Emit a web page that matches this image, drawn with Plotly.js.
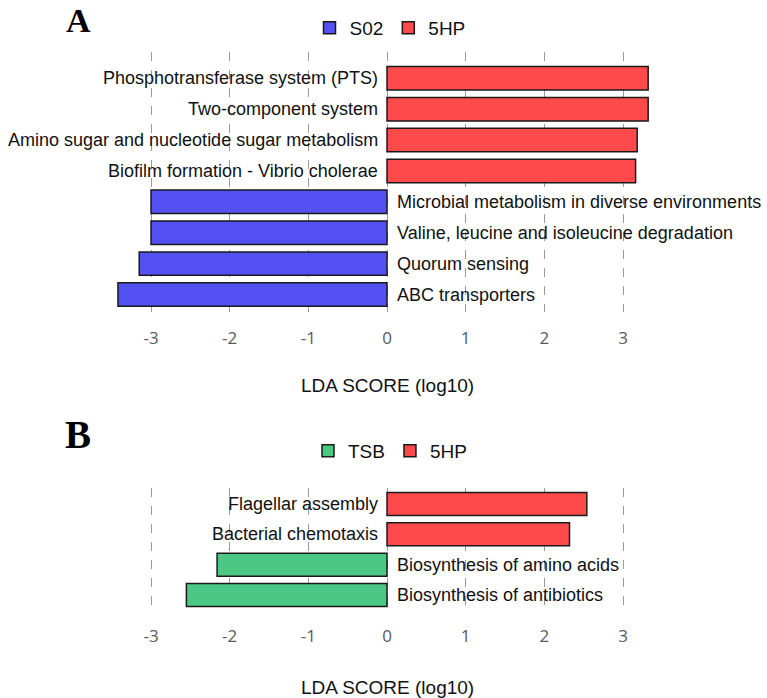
<!DOCTYPE html>
<html>
<head>
<meta charset="utf-8">
<script src="https://cdn.plot.ly/plotly-3.0.1.min.js"></script>
<style>
html,body{margin:0;padding:0;background:#fff;}
#chart{width:767px;height:698px;}
</style>
</head>
<body>
<div id="chart"></div>
<script>
// ---- Data: panel A ----
const termsA = [
  "Phosphotransferase system (PTS)",
  "Two-component system",
  "Amino sugar and nucleotide sugar metabolism",
  "Biofilm formation - Vibrio cholerae",
  "Microbial metabolism in diverse environments",
  "Valine, leucine and isoleucine degradation",
  "Quorum sensing",
  "ABC transporters"
];
const groupA_S02_terms = [
  "Microbial metabolism in diverse environments",
  "Valine, leucine and isoleucine degradation",
  "Quorum sensing",
  "ABC transporters"
];
const groupA_S02_scores = [-3.00, -3.00, -3.15, -3.42];
const groupA_5HP_terms = [
  "Phosphotransferase system (PTS)",
  "Two-component system",
  "Amino sugar and nucleotide sugar metabolism",
  "Biofilm formation - Vibrio cholerae"
];
const groupA_5HP_scores = [3.32, 3.32, 3.18, 3.16];

// ---- Data: panel B ----
const termsB = [
  "Flagellar assembly",
  "Bacterial chemotaxis",
  "Biosynthesis of amino acids",
  "Biosynthesis of antibiotics"
];
const groupB_TSB_terms = ["Biosynthesis of amino acids", "Biosynthesis of antibiotics"];
const groupB_TSB_scores = [-2.16, -2.55];
const groupB_5HP_terms = ["Flagellar assembly", "Bacterial chemotaxis"];
const groupB_5HP_scores = [2.54, 2.32];

const tickVals = [-3, -2, -1, 0, 1, 2, 3];
const tickText = ["-3", "-2", "-1", "0", "1", "2", "3"];
const axisTitle = "LDA SCORE (log10)";

// ---- Styling ----
const BLUE = "#5451F2", RED = "#FF4A4B", GREEN = "#4BC884";
const W = 767, H = 698;
const py = p => 1 - p / H;
const lineStyle = {color: "#1a1a1a", width: 1.5};

const traces = [
  {type: "bar", orientation: "h", name: "S02", x: groupA_S02_scores, y: groupA_S02_terms,
   xaxis: "x", yaxis: "y", marker: {color: BLUE, line: lineStyle}, legend: "legend", hoverinfo: "x+y"},
  {type: "bar", orientation: "h", name: "5HP", x: groupA_5HP_scores, y: groupA_5HP_terms,
   xaxis: "x", yaxis: "y", marker: {color: RED, line: lineStyle}, legend: "legend", hoverinfo: "x+y"},
  {type: "bar", orientation: "h", name: "TSB", x: groupB_TSB_scores, y: groupB_TSB_terms,
   xaxis: "x2", yaxis: "y2", marker: {color: GREEN, line: lineStyle}, legend: "legend2", hoverinfo: "x+y"},
  {type: "bar", orientation: "h", name: "5HP", x: groupB_5HP_scores, y: groupB_5HP_terms,
   xaxis: "x2", yaxis: "y2", marker: {color: RED, line: lineStyle}, legend: "legend2", hoverinfo: "x+y"}
];

// labels next to bars (anchored at zero, opposite side of bar)
const labelFont = {family: "Liberation Sans, Arial, sans-serif", size: 18, color: "#111"};
const annotations = [];
function addLabels(terms, scores, xref, yref) {
  terms.forEach((t, i) => {
    const pos = scores[i] >= 0;
    annotations.push({
      x: 0, y: t, xref: xref, yref: yref, text: t, showarrow: false,
      xanchor: pos ? "right" : "left", xshift: pos ? -7 : 8, yanchor: "middle",
      font: labelFont
    });
  });
}
addLabels(groupA_5HP_terms, groupA_5HP_scores, "x", "y");
addLabels(groupA_S02_terms, groupA_S02_scores, "x", "y");
addLabels(groupB_5HP_terms, groupB_5HP_scores, "x2", "y2");
addLabels(groupB_TSB_terms, groupB_TSB_scores, "x2", "y2");

// axis titles
const titleFont = {family: "Liberation Sans, Arial, sans-serif", size: 19, color: "#111"};
annotations.push({xref: "x domain", x: 0.5, yref: "paper", y: py(385), text: axisTitle,
  showarrow: false, xanchor: "center", yanchor: "middle", font: titleFont});
annotations.push({xref: "x2 domain", x: 0.5, yref: "paper", y: py(687), text: axisTitle,
  showarrow: false, xanchor: "center", yanchor: "middle", font: titleFont});
// panel letters
const letterFont = {family: "Liberation Serif, Times New Roman, serif", size: 34, color: "#000"};
annotations.push({xref: "paper", yref: "paper", x: 78.5 / W, y: 1, text: "<b>A</b>",
  showarrow: false, xanchor: "center", yanchor: "top", font: letterFont});
annotations.push({xref: "paper", yref: "paper", x: 77.5 / W, y: py(434), text: "<b>B</b>",
  showarrow: false, xanchor: "center", yanchor: "middle", font: Object.assign({}, letterFont, {size: 39})});

const xDom = [33 / W, 741 / W];
const xRange = [-4.5, 4.5];
const xCommon = {
  range: xRange, domain: xDom, tickvals: tickVals, ticktext: tickText,
  showgrid: true, gridcolor: "#9a9a9a", griddash: "dash", gridwidth: 1,
  zeroline: false, showline: false, ticks: "", ticklabelstandoff: 14,
  tickfont: {family: "Open Sans, sans-serif", size: 17, color: "#595959"},
  fixedrange: true
};
const legFont = {family: "Liberation Sans, Arial, sans-serif", size: 19, color: "#111"};

const layout = {
  width: W, height: H,
  margin: {l: 0, r: 0, t: 0, b: 0},
  paper_bgcolor: "#fff", plot_bgcolor: "rgba(0,0,0,0)",
  barmode: "relative", bargap: 0.24,
  showlegend: true,
  xaxis: Object.assign({anchor: "y"}, xCommon),
  xaxis2: Object.assign({anchor: "y2"}, xCommon),
  yaxis: {
    domain: [py(312), py(52)], type: "category", categoryorder: "array", categoryarray: termsA,
    range: [7.566, -0.851], showticklabels: false, showgrid: false, zeroline: false,
    showline: false, ticks: "", fixedrange: true
  },
  yaxis2: {
    domain: [py(610), py(488)], type: "category", categoryorder: "array", categoryarray: termsB,
    range: [3.495, -0.528], showticklabels: false, showgrid: false, zeroline: false,
    showline: false, ticks: "", fixedrange: true
  },
  legend: {orientation: "h", x: 390 / W, xanchor: "center", y: py(28), yanchor: "middle",
    font: legFont, itemwidth: 30, traceorder: "normal", bgcolor: "rgba(0,0,0,0)"},
  legend2: {orientation: "h", x: 390 / W, xanchor: "center", y: py(451), yanchor: "middle",
    font: legFont, itemwidth: 30, traceorder: "normal", bgcolor: "rgba(0,0,0,0)"},
  annotations: annotations
};

Plotly.newPlot("chart", traces, layout, {displayModeBar: false});
</script>
</body>
</html>
